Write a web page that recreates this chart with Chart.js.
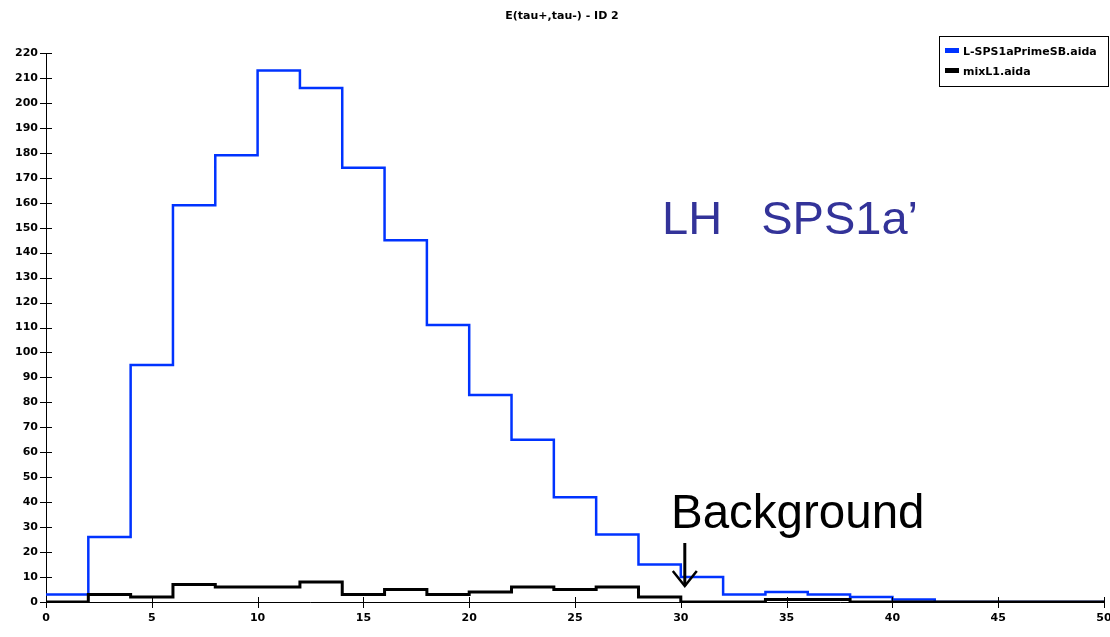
<!DOCTYPE html>
<html>
<head>
<meta charset="utf-8">
<script src="https://cdn.jsdelivr.net/npm/chart.js@4/dist/chart.umd.min.js"></script>
<style>
html,body{margin:0;padding:0;background:#fff;}
canvas{display:block;}
</style>
</head>
<body>
<canvas id="c" width="1110" height="637"></canvas>
<script>
// ---- data ----
const chartTitle = "E(tau+,tau-) - ID 2";
const binEdges = [0,2,4,6,8,10,12,14,16,18,20,22,24,26,28,30,32,34,36,38,40,42,44,46,48,50];
const signalLabel = "L-SPS1aPrimeSB.aida";
const signalCounts = [3,26,95,159,179,213,206,174,145,111,83,65,42,27,15,10,3,4,3,2,1,0,0,0,0];
const backgroundLabel = "mixL1.aida";
const backgroundCounts = [0,3,2,7,6,6,8,3,5,3,4,6,5,6,2,0,0,1,1,0,0,0,0,0,0];
const xTickStep = 5, xMin = 0, xMax = 50;
const yTickStep = 10, yMin = 0, yMax = 220;
const noteModel = "LH   SPS1a\u2019";
const noteBackground = "Background";
const arrowAtX = 30;

function stepPoints(counts){
  return binEdges.map((e,i)=>({x:e, y:counts[Math.min(i, counts.length-1)]}));
}

const TICK_FONT = {family:"'DejaVu Sans', sans-serif", size:11, weight:'bold'};

const overlay = {
  id:'overlay',
  afterDraw(chart){
    const ctx = chart.ctx, xs = chart.scales.x, ys = chart.scales.y;
    ctx.save();
    // crossing tick marks
    ctx.strokeStyle = '#000'; ctx.lineWidth = 1;
    ctx.beginPath();
    ys.ticks.forEach(t=>{
      const p = Math.round(ys.getPixelForValue(t.value))+0.5;
      ctx.moveTo(xs.left-6,p); ctx.lineTo(xs.left+6,p);
    });
    xs.ticks.forEach(t=>{
      const p = Math.round(xs.getPixelForValue(t.value))+0.5;
      ctx.moveTo(p,ys.bottom-5); ctx.lineTo(p,ys.bottom+6);
    });
    ctx.stroke();

    // title
    ctx.fillStyle = '#000';
    ctx.font = "bold 11px 'DejaVu Sans', sans-serif";
    ctx.textAlign = 'center'; ctx.textBaseline = 'middle';
    ctx.fillText(chartTitle, 562, 16);

    // legend box
    const lx = 939, ly = 36, lw = 170, lh = 51;
    ctx.fillStyle = '#fff';
    ctx.fillRect(lx, ly, lw, lh);
    ctx.strokeStyle = '#000'; ctx.lineWidth = 1;
    ctx.strokeRect(lx+0.5, ly+0.5, lw-1, lh-1);
    const ds = chart.data.datasets;
    ds.forEach((d,i)=>{
      const cy = ly + 15 + i*20;
      ctx.fillStyle = d.borderColor;
      ctx.fillRect(lx+6, cy-3, 14, 5);
      ctx.fillStyle = '#000';
      ctx.textAlign = 'left'; ctx.textBaseline = 'middle';
      ctx.font = "bold 11px 'DejaVu Sans', sans-serif";
      ctx.fillText(d.label, lx+24, cy+1);
    });

    // annotations
    ctx.font = "47px 'Liberation Sans', Arial, sans-serif";
    ctx.fillStyle = '#333399';
    ctx.textAlign = 'left'; ctx.textBaseline = 'alphabetic';
    ctx.fillText(noteModel, 662, 234);

    ctx.font = "47.5px 'Liberation Sans', Arial, sans-serif";
    ctx.fillStyle = '#000';
    ctx.fillText(noteBackground, 671, 528);

    // arrow
    const ax = xs.getPixelForValue(arrowAtX) + 4;
    ctx.strokeStyle = '#000'; ctx.lineWidth = 3; ctx.lineCap = 'butt';
    ctx.beginPath();
    ctx.moveTo(ax, 543); ctx.lineTo(ax, 586);
    ctx.stroke();
    ctx.lineWidth = 2.5;
    ctx.beginPath();
    ctx.moveTo(ax-12, 571); ctx.lineTo(ax, 586); ctx.lineTo(ax+12, 571);
    ctx.stroke();
    ctx.restore();
  }
};

new Chart(document.getElementById('c'), {
  type:'line',
  data:{
    datasets:[
      {label:signalLabel, data:stepPoints(signalCounts), borderColor:'#0033ff', borderWidth:2.5,
       stepped:'before', pointRadius:0, fill:false, order:1},
      {label:backgroundLabel, data:stepPoints(backgroundCounts), borderColor:'#000000', borderWidth:3,
       stepped:'before', pointRadius:0, fill:false, order:0}
    ]
  },
  options:{
    responsive:false, animation:false,
    layout:{padding:{top:53, right:6, left:0, bottom:0}},
    plugins:{legend:{display:false}, title:{display:false}, tooltip:{enabled:false}},
    scales:{
      x:{type:'linear', min:xMin, max:xMax,
         ticks:{stepSize:xTickStep, color:'#000', font:TICK_FONT, padding:10, maxRotation:0},
         grid:{display:false, drawTicks:false},
         border:{display:true, color:'#000', width:1},
         afterFit(s){ s.height = 35; s.paddingLeft = 0; s.paddingRight = 0; }},
      y:{type:'linear', min:yMin, max:yMax,
         ticks:{stepSize:yTickStep, color:'#000', font:TICK_FONT, padding:8},
         grid:{display:false, drawTicks:false},
         border:{display:true, color:'#000', width:1},
         afterFit(s){ s.width = 46; s.paddingTop = 0; s.paddingBottom = 0; }}
    }
  },
  plugins:[overlay]
});
</script>
</body>
</html>
